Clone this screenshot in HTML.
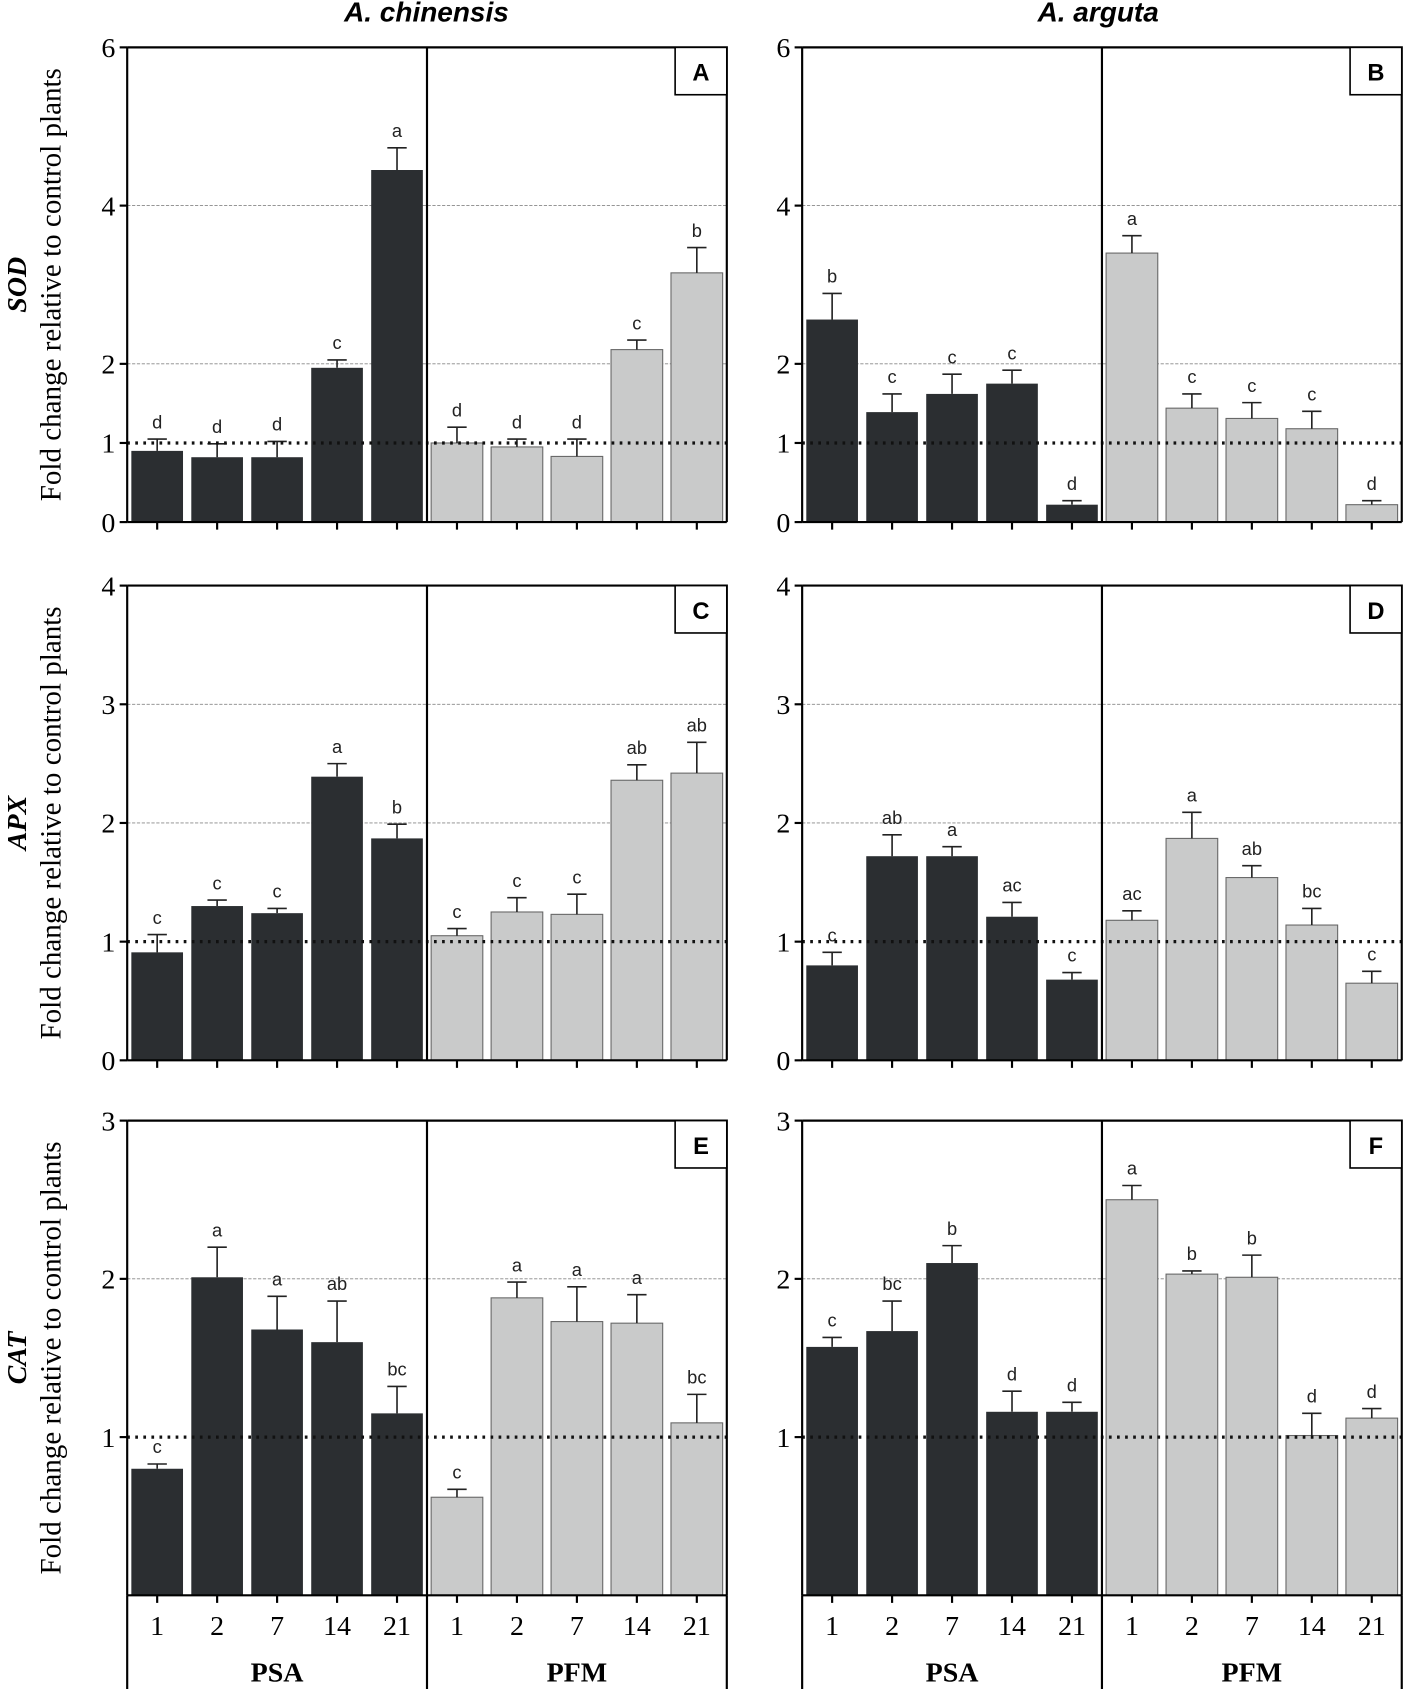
<!DOCTYPE html>
<html><head><meta charset="utf-8"><style>
html,body{margin:0;padding:0;background:#fff}
svg{display:block}
</style></head><body>
<svg id="chart" xmlns="http://www.w3.org/2000/svg" width="1403" height="1689" viewBox="0 0 1303 1569">
<text x="396" y="20" text-anchor="middle" font-family="Liberation Sans, sans-serif" font-size="26" font-weight="bold" font-style="italic">A. chinensis</text>
<text x="1020" y="20" text-anchor="middle" font-family="Liberation Sans, sans-serif" font-size="26" font-weight="bold" font-style="italic">A. arguta</text>
</svg>
<script>
const days = ["1","2","7","14","21"];
const groups = ["PSA","PFM"];
const letterPanels = ["A","B","C","D","E","F"];
const genes = ["SOD","APX","CAT"];
const yMaxs = [6,4,3];
const yTicks = [[0,1,2,4,6],[0,1,2,3,4],[1,2,3]];
const valA = [0.9,0.82,0.82,1.95,4.45, 1.0,0.95,0.83,2.18,3.15];
const errA = [0.15,0.17,0.2,0.1,0.28, 0.2,0.1,0.22,0.12,0.32];
const labA = ["d","d","d","c","a","d","d","d","c","b"];
const valB = [2.56,1.39,1.62,1.75,0.22, 3.4,1.44,1.31,1.18,0.22];
const errB = [0.33,0.23,0.25,0.17,0.05, 0.22,0.18,0.2,0.22,0.05];
const labB = ["b","c","c","c","d","a","c","c","c","d"];
const valC = [0.91,1.3,1.24,2.39,1.87, 1.05,1.25,1.23,2.36,2.42];
const errC = [0.15,0.05,0.04,0.11,0.12, 0.06,0.12,0.17,0.13,0.26];
const labC = ["c","c","c","a","b","c","c","c","ab","ab"];
const valD = [0.8,1.72,1.72,1.21,0.68, 1.18,1.87,1.54,1.14,0.65];
const errD = [0.11,0.18,0.08,0.12,0.06, 0.08,0.22,0.1,0.14,0.1];
const labD = ["c","ab","a","ac","c","ac","a","ab","bc","c"];
const valE = [0.8,2.01,1.68,1.6,1.15, 0.62,1.88,1.73,1.72,1.09];
const errE = [0.03,0.19,0.21,0.26,0.17, 0.05,0.1,0.22,0.18,0.18];
const labE = ["c","a","a","ab","bc","c","a","a","a","bc"];
const valF = [1.57,1.67,2.1,1.16,1.16, 2.5,2.03,2.01,1.01,1.12];
const errF = [0.06,0.19,0.11,0.13,0.06, 0.09,0.02,0.14,0.14,0.06];
const labF = ["c","bc","b","d","d","a","b","b","d","d"];

const allVals=[valA,valB,valC,valD,valE,valF];
const allErrs=[errA,errB,errC,errD,errE,errF];
const allLabs=[labA,labB,labC,labD,labE,labF];
const svg=document.getElementById('chart');
const NS="http://www.w3.org/2000/svg";
function mk(tag,attrs,parent){const e=document.createElementNS(NS,tag);for(const k in attrs)e.setAttribute(k,attrs[k]);(parent||svg).appendChild(e);return e;}
const colX=[118,745], colW=557;
const rowTop=[44,544,1041], rowH=441;
const DARK="#2b2e31", LIGHT="#c9caca";

for(let p=0;p<6;p++){
  const col=p%2,row=Math.floor(p/2);
  const x0=colX[col],x1=x0+colW,yT=rowTop[row],yB=yT+rowH,ymax=yMaxs[row];
  const ys=v=>yB-v/ymax*rowH;
  const xs=i=>x0+(i+0.5)*colW/10;
  const g=mk('g',{});
  
  
  yTicks[row].forEach(t=>{
    if(t>1){const l=mk('line',{x1:x0,x2:x1,y1:ys(t),y2:ys(t),stroke:'#888','stroke-width':0.8,'stroke-dasharray':'3 1.5'},g);
      }
  });
  const vals=allVals[p],errs=allErrs[p],labs=allLabs[p];
  vals.forEach((v,i)=>{
    const cx=xs(i),w=48;
    const r=mk('rect',{x:cx-w/2,y:ys(v),width:w,height:yB-ys(v),fill:i<5?DARK:LIGHT,stroke:i<5?DARK:'#666','stroke-width':i<5?0:1},g);
    
    
    const ye=ys(v+errs[i]);
    const e1=mk('path',{d:`M${cx} ${ys(v)}V${ye}M${cx-9} ${ye}H${cx+9}`,stroke:'#222','stroke-width':1.5,fill:'none'},g);
    
    const t=mk('text',{x:cx,y:ye-10,'text-anchor':'middle','font-family':'Liberation Sans, sans-serif','font-size':17,fill:'#222'},g);
    t.textContent=labs[i];
    
  });
  const rl=mk('line',{x1:x0,x2:x1,y1:ys(1),y2:ys(1),stroke:'#111','stroke-width':3,'stroke-dasharray':'2.5 5'},g);
  
  const fr=mk('path',{d:`M${x0} ${yT}H${x1}V${yB}M${x0} ${yT}V${yB}M${x0+colW/2} ${yT}V${yB}`,stroke:'#000','stroke-width':2,fill:'none'},g);
  
  const xa=mk('line',{x1:x0,x2:x1,y1:yB,y2:yB,stroke:'#000','stroke-width':2},g);
  
  for(let i=0;i<10;i++){mk('line',{x1:xs(i),x2:xs(i),y1:yB,y2:yB+7,stroke:'#000','stroke-width':2},g);}
  yTicks[row].forEach(t=>{
    mk('line',{x1:x0-7,x2:x0,y1:ys(t),y2:ys(t),stroke:'#000','stroke-width':2},g);
    const tl=mk('text',{x:x0-11,y:ys(t)+9,'text-anchor':'end','font-family':'Liberation Serif, serif','font-size':26},g);
    tl.textContent=t;
    
  });
  const bx=mk('rect',{x:x1-48,y:yT,width:48,height:44,fill:'#fff',stroke:'#000','stroke-width':1.5},g);
  
  const bt=mk('text',{x:x1-24,y:yT+31,'text-anchor':'middle','font-family':'Liberation Sans, sans-serif','font-size':22,'font-weight':'bold'},g);
  bt.textContent=letterPanels[p];
  
  if(col===0){
    const cy=(yT+yB)/2;
    const yl=mk('text',{x:0,y:0,transform:`translate(56 ${cy}) rotate(-90)`,'text-anchor':'middle','font-family':'Liberation Serif, serif','font-size':27},g);
    yl.textContent='Fold change relative to control plants';
    
    const gl=mk('text',{x:0,y:0,transform:`translate(24 ${cy}) rotate(-90)`,'text-anchor':'middle','font-family':'Liberation Serif, serif','font-size':26,'font-weight':'bold','font-style':'italic'},g);
    gl.textContent=genes[row];
    
  }
  if(row===2){
    for(let i=0;i<10;i++){
      const tl=mk('text',{x:xs(i),y:yB+37,'text-anchor':'middle','font-family':'Liberation Serif, serif','font-size':26},g);
      tl.textContent=days[i%5];
      
    }
    mk('path',{d:`M${x0} ${yB}V1569M${x0+colW/2} ${yB}V1569M${x1} ${yB}V1569`,stroke:'#000','stroke-width':2,fill:'none'},g);
    groups.forEach((gname,k)=>{
      const gt=mk('text',{x:x0+colW/4+k*colW/2,y:yB+80,'text-anchor':'middle','font-family':'Liberation Serif, serif','font-size':26,'font-weight':'bold'},g);
      gt.textContent=gname;
      
    });
  }
}
</script>
</body></html>
